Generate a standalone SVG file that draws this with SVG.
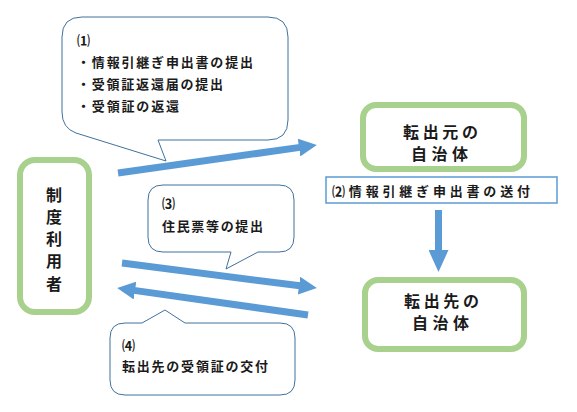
<svg xmlns="http://www.w3.org/2000/svg" width="577" height="412" viewBox="0 0 577 412">
<style>
.bg{fill:#ffffff}
.gbox{fill:#ffffff;stroke:#a9d18e;stroke-width:6}
.callout{fill:#ffffff;stroke:#41719c;stroke-width:1}
.label{fill:#ffffff;stroke:#5b9bd5;stroke-width:1.5}
.t{font-family:"Noto Sans CJK JP","Noto Sans",sans-serif;font-weight:bold;fill:#1a1a1a}
.s13{font-size:13px}
.s16{font-size:16px}
.arr{stroke:#5b9bd5;stroke-width:7;fill:none}
</style>
<defs>
<marker id="ah" viewBox="0 0 18 18" refX="1" refY="9" markerWidth="18" markerHeight="18" orient="auto" markerUnits="userSpaceOnUse">
<path d="M0,0 L18,9 L0,18 z" fill="#5b9bd5"/>
</marker>
<marker id="ahv" viewBox="0 0 22 20" refX="1" refY="10" markerWidth="22" markerHeight="20" orient="auto" markerUnits="userSpaceOnUse">
<path d="M0,0 L22,10 L0,20 z" fill="#5b9bd5"/>
</marker>
</defs>
<rect class="bg" x="0" y="0" width="577" height="412"/>

<g id="callout1">
<path class="callout" d="M82,17 H268 Q288,17 288,37 V120 Q288,140 268,140 H158 L166,161 L76,133 Q62,128 62,112 V37 Q62,17 82,17 Z"/>
<text class="t s13" x="77" y="45">⑴</text>
<text class="t s13" x="77" y="67" textLength="176" lengthAdjust="spacing">・情報引継ぎ申出書の提出</text>
<text class="t s13" x="77" y="89" textLength="146" lengthAdjust="spacing">・受領証返還届の提出</text>
<text class="t s13" x="77" y="111" textLength="102" lengthAdjust="spacing">・受領証の返還</text>
</g>

<g id="callout3">
<path class="callout" d="M163,185 H279 Q294,185 294,200 V237 Q294,252 279,252 H258 L226,269 L231,252 H163 Q148,252 148,237 V200 Q148,185 163,185 Z"/>
<text class="t s13" x="162" y="208">⑶</text>
<text class="t s13" x="162" y="231" textLength="101" lengthAdjust="spacing">住民票等の提出</text>
</g>

<g id="callout4">
<path class="callout" d="M125,323 H142 L165,310 L185,323 H280 Q295,323 295,338 V380 Q295,395 280,395 H125 Q110,395 110,380 V338 Q110,323 125,323 Z"/>
<text class="t s13" x="122" y="350">⑷</text>
<text class="t s13" x="122" y="371" textLength="146" lengthAdjust="spacing">転出先の受領証の交付</text>
</g>

<g id="user">
<rect class="gbox" x="20" y="160" width="69" height="152" rx="15" ry="15"/>
<text class="t s16" text-anchor="middle" x="54" y="201">制</text>
<text class="t s16" text-anchor="middle" x="54" y="223">度</text>
<text class="t s16" text-anchor="middle" x="54" y="245">利</text>
<text class="t s16" text-anchor="middle" x="54" y="267">用</text>
<text class="t s16" text-anchor="middle" x="54" y="290">者</text>
</g>

<g id="origin">
<rect class="gbox" x="363" y="105" width="161" height="64" rx="13" ry="13"/>
<text class="t s16" x="403" y="138" textLength="75" lengthAdjust="spacing">転出元の</text>
<text class="t s16" x="411" y="160" textLength="57" lengthAdjust="spacing">自治体</text>
</g>

<g id="dest">
<rect class="gbox" x="365" y="280" width="159" height="69" rx="13" ry="13"/>
<text class="t s16" x="404" y="307" textLength="75" lengthAdjust="spacing">転出先の</text>
<text class="t s16" x="412" y="329" textLength="57" lengthAdjust="spacing">自治体</text>
</g>

<g id="label2">
<rect class="label" x="326" y="177" width="231" height="26"/>
<text class="t s13" x="332" y="196" textLength="198" lengthAdjust="spacing">⑵情報引継ぎ申出書の送付</text>
</g>

<g id="connectors">
<line class="arr" x1="118" y1="173" x2="300" y2="147.4" marker-end="url(#ah)"/>
<line class="arr" x1="122" y1="263" x2="300" y2="285.8" marker-end="url(#ah)"/>
<line class="arr" x1="308" y1="315" x2="134" y2="290.4" marker-end="url(#ah)"/>
<line class="arr" x1="438.5" y1="210" x2="438.5" y2="251" marker-end="url(#ahv)"/>
</g>
</svg>
